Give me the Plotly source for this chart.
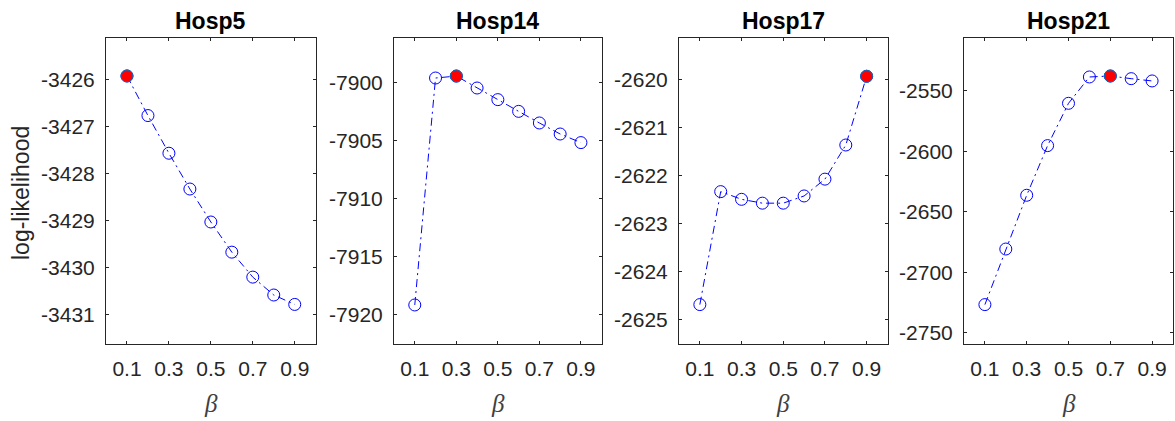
import plotly.graph_objects as go

beta = [0.1, 0.2, 0.3, 0.4, 0.5, 0.6, 0.7, 0.8, 0.9]
titles = ["Hosp5", "Hosp14", "Hosp17", "Hosp21"]

hosp5 = [-3425.93, -3426.77, -3427.57, -3428.33, -3429.03, -3429.67, -3430.20, -3430.58, -3430.78]
hosp14 = [-7919.14, -7899.60, -7899.43, -7900.46, -7901.46, -7902.47, -7903.47, -7904.42, -7905.16]
hosp17 = [-2624.69, -2622.34, -2622.50, -2622.58, -2622.58, -2622.43, -2622.08, -2621.37, -2619.94]
hosp21 = [-2726.8, -2680.8, -2636.3, -2595.2, -2560.2, -2538.4, -2537.6, -2539.8, -2541.7]
series = [hosp5, hosp14, hosp17, hosp21]

x_ticks = [0.1, 0.3, 0.5, 0.7, 0.9]
x_ticktext = ["0.1", "0.3", "0.5", "0.7", "0.9"]
y_ticks = [
    [-3426, -3427, -3428, -3429, -3430, -3431],
    [-7900, -7905, -7910, -7915, -7920],
    [-2620, -2621, -2622, -2623, -2624, -2625],
    [-2550, -2600, -2650, -2700, -2750],
]
y_ranges = [
    [-3431.62, -3425.13],
    [-7922.5, -7896.18],
    [-2625.51, -2619.15],
    [-2759.4, -2506.4],
]

W, H = 1175, 421
x_px = [(106, 315.7), (394, 601.7), (679, 887.5), (964, 1173)]
y_top, y_bot = 38.3, 344

axcol = "#262626"
fig = go.Figure()
layout = {}
annotations = []
for i, (vals, t) in enumerate(zip(series, titles)):
    n = "" if i == 0 else str(i + 1)
    xa, ya = "x" + n, "y" + n
    fig.add_trace(go.Scatter(
        x=beta, y=vals, xaxis=xa, yaxis=ya, mode="lines+markers",
        line=dict(color="#0000FF", width=1, dash="8px,4px,2px,4px"),
        marker=dict(symbol="circle-open", size=12, color="#0000FF", line=dict(width=1)),
        showlegend=False, hoverinfo="x+y"))
    best = max(range(len(vals)), key=lambda k: vals[k])
    fig.add_trace(go.Scatter(
        x=[beta[best]], y=[vals[best]], xaxis=xa, yaxis=ya, mode="markers",
        marker=dict(symbol="circle", size=12, color="#FF0000", line=dict(color="#0072BD", width=1)),
        showlegend=False, hoverinfo="x+y"))
    d0 = x_px[i][0] / W
    d1 = x_px[i][1] / W
    layout["xaxis" + n] = dict(
        domain=[d0, d1], range=[0, 1], anchor=ya,
        tickvals=x_ticks, ticktext=x_ticktext,
        ticks="inside", ticklen=3, tickcolor=axcol, tickwidth=1,
        showline=True, linecolor=axcol, linewidth=1, mirror="ticks",
        showgrid=False, zeroline=False, ticklabelstandoff=6,
        tickfont=dict(family="Liberation Sans, Arial", size=21, color=axcol))
    layout["yaxis" + n] = dict(
        domain=[1 - y_bot / H, 1 - y_top / H], range=y_ranges[i], anchor=xa,
        tickvals=y_ticks[i], ticktext=[str(v) for v in y_ticks[i]],
        ticks="inside", ticklen=3, tickcolor=axcol, tickwidth=1,
        showline=True, linecolor=axcol, linewidth=1, mirror="ticks",
        showgrid=False, zeroline=False, ticklabelstandoff=6,
        tickfont=dict(family="Liberation Sans, Arial", size=21, color=axcol))
    cx = (d0 + d1) / 2
    annotations.append(dict(
        text="<b>" + t + "</b>", x=cx, y=1 - 21 / H, xref="paper", yref="paper",
        xanchor="center", yanchor="middle", showarrow=False,
        font=dict(family="Liberation Sans, Arial", size=23, color="#000000")))
    annotations.append(dict(
        text="<i>β</i>", x=cx, y=1 - 403 / H, xref="paper", yref="paper",
        xanchor="center", yanchor="middle", showarrow=False,
        font=dict(family="Liberation Serif, DejaVu Serif", size=25, color="#404040")))

annotations.append(dict(
    text="log-likelihood", x=21 / W, y=1 - 193 / H, xref="paper", yref="paper",
    xanchor="center", yanchor="middle", showarrow=False, textangle=-90,
    font=dict(family="Liberation Sans, Arial", size=23, color=axcol)))

fig.update_layout(
    width=W, height=H, margin=dict(l=0, r=0, t=0, b=0),
    paper_bgcolor="white", plot_bgcolor="white",
    annotations=annotations, **layout)

fig.write_html("out.html")
